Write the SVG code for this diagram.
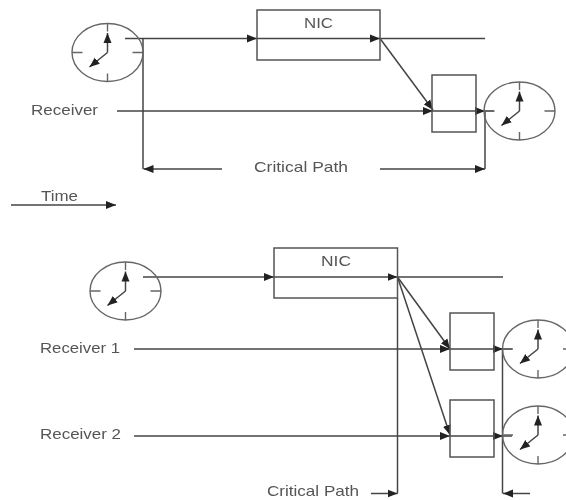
<svg xmlns="http://www.w3.org/2000/svg" width="566" height="500" viewBox="0 0 566 500">
<style>
.l{fill:none;stroke:#444;stroke-width:1.5}
.a{marker-end:url(#ah)}
.b{fill:none;stroke:#555;stroke-width:1.5}
.c{fill:none;stroke:#666;stroke-width:1.4}
text{font-family:"Liberation Sans",Arial,sans-serif;font-size:15px;fill:#555}
</style>
<defs>
<marker id="ah" markerUnits="userSpaceOnUse" markerWidth="10" markerHeight="9" refX="10" refY="4.5" orient="auto"><path d="M0 0.5L10 4.5L0 8.5Z" fill="#222"/></marker>
<filter id="s" x="-2%" y="-2%" width="104%" height="104%"><feGaussianBlur stdDeviation="0.45"/></filter>
<g id="clock">
<ellipse class="c" rx="35.5" ry="29"/>
<path class="c" d="M-35.5 0H-25M25 0H35.5M0 -29V-21M0 21V29"/>
<path class="l a" d="M0 0V-19.5"/>
<path class="l a" d="M0 0L-18 14.5"/>
</g>
</defs>
<rect width="566" height="500" fill="#fff"/>
<g filter="url(#s)">
<g id="connectors">
<path class="l a" d="M125 38.5H257"/>
<path class="l a" d="M257 38.5H380"/>
<path class="l" d="M380 38.5H485"/>
<path class="l a" d="M380 38.5L433 110"/>
<path class="l a" d="M117 111H433"/>
<path class="l a" d="M433 111H485"/>
<path class="l" d="M485 111H494"/>
<path class="l" d="M143 38.5V169"/>
<path class="l a" d="M222 169H143.5"/>
<path class="l a" d="M380 169H485"/>
<path class="l" d="M485 111V169"/>
<path class="l a" d="M11 205H116"/>
<path class="l a" d="M143 277H274"/>
<path class="l a" d="M274 277H397.5"/>
<path class="l" d="M397.5 277H503"/>
<path class="l" d="M397.5 298V493.5"/>
<path class="l a" d="M397.5 277L450 349"/>
<path class="l a" d="M397.5 277L450 435"/>
<path class="l a" d="M134 349H450"/>
<path class="l a" d="M450 349H503"/>
<path class="l" d="M503 349H512"/>
<path class="l a" d="M134 436H450"/>
<path class="l a" d="M450 436H503"/>
<path class="l" d="M503 436H512"/>
<path class="l" d="M502.5 349V493.5"/>
<path class="l a" d="M530 493.5H503"/>
<path class="l a" d="M371 493.5H397.5"/>
</g>
<g id="clock-1"><use href="#clock" x="107.5" y="52.5"/></g>
<g id="nic-1"><rect class="b" x="257" y="10" width="123" height="50"/><text x="304" y="28" textLength="29" lengthAdjust="spacingAndGlyphs">NIC</text></g>
<g id="box-1"><rect class="b" x="432" y="75" width="44" height="57"/></g>
<g id="clock-2"><use href="#clock" x="519.5" y="111"/></g>
<g id="label-receiver"><text x="31" y="115" textLength="67" lengthAdjust="spacingAndGlyphs">Receiver</text></g>
<g id="label-critical-1"><text x="254" y="172" textLength="94" lengthAdjust="spacingAndGlyphs">Critical Path</text></g>
<g id="label-time"><text x="41" y="201" textLength="37" lengthAdjust="spacingAndGlyphs">Time</text></g>
<g id="clock-3"><use href="#clock" x="125.5" y="291"/></g>
<g id="nic-2"><rect class="b" x="274" y="248" width="123.5" height="50"/><text x="321" y="266" textLength="30" lengthAdjust="spacingAndGlyphs">NIC</text></g>
<g id="box-2"><rect class="b" x="450" y="313" width="44" height="57"/></g>
<g id="box-3"><rect class="b" x="450" y="400" width="44" height="57"/></g>
<g id="clock-4"><use href="#clock" x="538" y="349"/></g>
<g id="clock-5"><use href="#clock" x="538" y="435"/></g>
<g id="label-receiver-1"><text x="40" y="353" textLength="80" lengthAdjust="spacingAndGlyphs">Receiver 1</text></g>
<g id="label-receiver-2"><text x="40" y="439" textLength="81" lengthAdjust="spacingAndGlyphs">Receiver 2</text></g>
<g id="label-critical-2"><text x="267" y="496" textLength="92" lengthAdjust="spacingAndGlyphs">Critical Path</text></g>
</g>
</svg>
